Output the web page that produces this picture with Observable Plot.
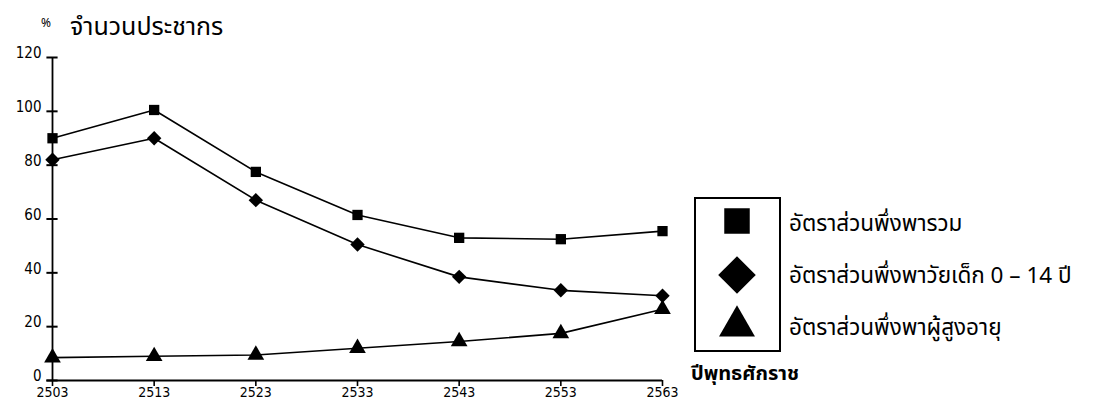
<!DOCTYPE html>
<html>
<head>
<meta charset="utf-8">
<script src="https://cdn.jsdelivr.net/npm/d3@7"></script>
<script src="https://cdn.jsdelivr.net/npm/@observablehq/plot@0.6"></script>
<style>
  html, body { margin: 0; padding: 0; background: #fff; }
  #wrap { position: relative; width: 1118px; height: 403px; overflow: hidden; font-family: "Noto Sans Thai", "Loma", "Garuda", "Norasi", "DejaVu Sans", sans-serif; color: #000; }
  #chart { position: absolute; left: 0; top: 0; }
  .ov { position: absolute; white-space: nowrap; }
</style>
</head>
<body>
<div id="wrap">
  <div id="chart"></div>
  <div class="ov" id="ytitle" style="left:41px; top:8px; font-size:25px;"><span style="font-size:12px; vertical-align:8px; margin-right:19px;">%</span>จำนวนประชากร</div>
  <div class="ov" id="xtitle" style="left:691px; top:359px; font-size:20px; font-weight:bold;">ปีพุทธศักราช</div>
  <div class="ov" id="legendBox" style="left:694px; top:197px; width:83px; height:151px; border:2px solid #000;"></div>
  <svg class="ov" style="left:694px; top:197px;" width="90" height="160" id="legendSym"></svg>
  <div class="ov" id="legendText" style="left:789px; top:198px; font-size:22.5px; line-height:52px;"></div>
</div>
<script>
// ---- data ----
const years = [2503, 2513, 2523, 2533, 2543, 2553, 2563];
const totalRatio = [90, 100.5, 77.5, 61.5, 53, 52.5, 55.5];
const childRatio = [82, 90, 67, 50.5, 38.5, 33.5, 31.5];
const elderRatio = [8.5, 9, 9.5, 12, 14.5, 17.5, 26.5];
const seriesNames = ["อัตราส่วนพึ่งพารวม", "อัตราส่วนพึ่งพาวัยเด็ก 0 – 14 ปี", "อัตราส่วนพึ่งพาผู้สูงอายุ"];
const seriesSymbols = ["square", "diamond2", "triangle"];
const yTicks = [0, 20, 40, 60, 80, 100, 120];

const seriesValues = [totalRatio, childRatio, elderRatio];
const rows = seriesValues.flatMap((vals, i) => vals.map((v, j) => ({year: years[j], value: v, series: seriesNames[i], symbol: seriesSymbols[i]})));

const font = "'Liberation Sans Narrow', 'DejaVu Sans Condensed', sans-serif";
const tickHalf = 0.55; // half-length of the y ticks crossing the axis, in years

const chart = Plot.plot({
  width: 1118,
  height: 403,
  marginLeft: 52,
  marginRight: 456,
  marginTop: 57,
  marginBottom: 23,
  style: {fontFamily: font, fontSize: "14px", color: "#000", background: "transparent", overflow: "visible"},
  x: {domain: [2503, 2563], ticks: years, tickFormat: d => String(d), label: null},
  y: {domain: [0, 120], ticks: yTicks, label: null},
  marks: [
    Plot.axisY({ticks: yTicks, tickSize: 0, tickPadding: 11, dy: -4, tickFormat: d => String(d), label: null, fontSize: 15}),
    Plot.ruleY(yTicks, {y: d => d, x1: years[0] - tickHalf, x2: years[0] + tickHalf, stroke: "#000", strokeWidth: 2}),
    Plot.axisX({ticks: years, tickSize: 6, tickPadding: 1, tickFormat: d => String(d), label: null, strokeWidth: 1.6, fontSize: 14}),
    Plot.ruleX([years[0]], {y1: 0, y2: 120, strokeWidth: 1.8}),
    Plot.ruleY([0], {x1: years[0] - tickHalf, x2: years[years.length - 1], strokeWidth: 1.8}),
    Plot.line(rows, {x: "year", y: "value", z: "series", stroke: "#000", strokeWidth: 1.6}),
    Plot.dot(rows.filter(d => d.symbol === "square"), {x: "year", y: "value", symbol: "square", fill: "#000", stroke: "none", r: 5.8}),
    Plot.dot(rows.filter(d => d.symbol === "diamond2"), {x: "year", y: "value", symbol: "diamond2", fill: "#000", stroke: "none", r: 6.5}),
    Plot.dot(rows.filter(d => d.symbol === "triangle"), {x: "year", y: "value", symbol: "triangle", fill: "#000", stroke: "none", r: 6.2})
  ]
});
document.getElementById("chart").appendChild(chart);

// legend
const ls = d3.select("#legendSym");
const symMap = {square: d3.symbolSquare, diamond2: d3.symbolDiamond2, triangle: d3.symbolTriangle};
const sizes = {square: 650, diamond2: 900, triangle: 560};
const cy = [24, 78, 129];
seriesSymbols.forEach((s, i) => {
  ls.append("path")
    .attr("d", d3.symbol(symMap[s], sizes[s])())
    .attr("transform", `translate(43,${cy[i]})`)
    .attr("fill", "#000");
});
d3.select("#legendText").selectAll("div").data(seriesNames).join("div").text(d => d);
</script>
</body>
</html>
